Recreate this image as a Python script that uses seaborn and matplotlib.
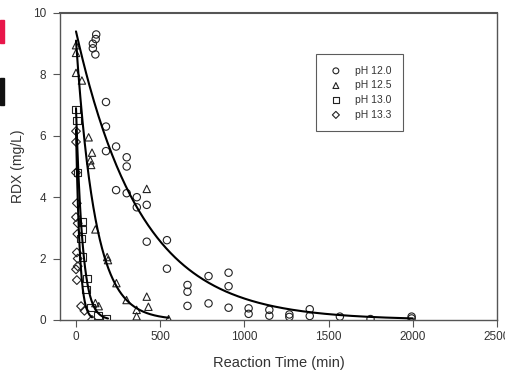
import numpy as np
import pandas as pd
import matplotlib
matplotlib.use("Agg")
import matplotlib.pyplot as plt
import seaborn as sns
from matplotlib.patches import Rectangle

# ---- data ----
ph120_t = [120, 117, 100, 100, 115, 178, 178, 178, 238, 301, 301, 238, 301, 361, 361,
           420, 420, 540, 540, 662, 662, 662, 787, 787, 906, 906, 906, 1025, 1025,
           1148, 1148, 1267, 1267, 1388, 1388, 1567, 1749, 1993, 1993]
ph120_c = [9.3, 9.15, 9.0, 8.85, 8.65, 7.1, 6.3, 5.5, 5.65, 5.3, 5.0, 4.23, 4.13, 4.0, 3.67,
           3.75, 2.55, 2.6, 1.67, 1.14, 0.92, 0.46, 1.43, 0.54, 1.54, 1.1, 0.4, 0.38, 0.2,
           0.33, 0.14, 0.18, 0.1, 0.35, 0.13, 0.11, 0.03, 0.11, 0.05]

ph125_t = [0, 0, 0, 35, 75, 95, 85, 90, 115, 185, 190, 240, 300, 360, 360, 420, 420, 430,
           550, 115, 135]
ph125_c = [8.95, 8.7, 8.05, 7.8, 5.95, 5.45, 5.2, 5.05, 2.95, 2.05, 1.95, 1.2, 0.65, 0.33,
           0.12, 4.27, 0.76, 0.43, 0.03, 0.55, 0.45]

ph130_t = [0, 5, 10, 40, 35, 30, 40, 65, 60, 90, 130, 180]
ph130_c = [6.85, 6.5, 4.8, 3.2, 2.95, 2.65, 2.05, 1.35, 1.0, 0.4, 0.15, 0.03]

ph133_t = [0, 0, 0, 5, 0, 10, 8, 5, 10, 0, 5, 10, 30, 50, 95]
ph133_c = [6.15, 5.8, 4.8, 3.8, 3.35, 3.15, 2.8, 2.2, 2.0, 1.65, 1.3, 1.75, 0.45, 0.3, 0.0]

labels = ["pH 12.0", "pH 12.5", "pH 13.0", "pH 13.3"]
# first-order fit parameters (C0, k, end time)
fit_c0 = [9.4, 9.1, 6.9, 6.2]
fit_k = [0.0026, 0.0088, 0.026, 0.045]
fit_end = [2000, 550, 190, 95]

x_ticks = [0, 500, 1000, 1500, 2000, 2500]
y_ticks = [0, 2, 4, 6, 8, 10]

# ---- plotting ----
sns.set_style("white")
plt.rcParams["font.family"] = ["Liberation Sans", "DejaVu Sans"]
txt = "#333333"

fig = plt.figure(figsize=(5.06, 3.71), dpi=100)
ax = fig.add_axes([0.1186, 0.1375, 0.8636, 0.8275])

series = [(ph120_t, ph120_c, "o"), (ph125_t, ph125_c, "^"),
          (ph130_t, ph130_c, "s"), (ph133_t, ph133_c, "D")]

for (t, c, m), lab in zip(series, labels):
    df = pd.DataFrame({"t": t, "c": c})
    sns.scatterplot(data=df, x="t", y="c", marker=m, s=28 if m != "D" else 20,
                    facecolor="none", edgecolor="#222222", linewidth=0.8,
                    ax=ax, label=lab, zorder=3)

for c0, k, tend in zip(fit_c0, fit_k, fit_end):
    tt = np.linspace(0, tend, 300)
    fit_df = pd.DataFrame({"t": tt, "c": c0 * np.exp(-k * tt)})
    sns.lineplot(data=fit_df, x="t", y="c", color="black", linewidth=1.5,
                 ax=ax, zorder=4)

ax.set_xlim(-95, 2500)
ax.set_ylim(0, 10)
ax.set_xticks(x_ticks)
ax.set_yticks(y_ticks)
ax.tick_params(axis="both", direction="out", length=5, width=0.8, color="#555555",
               labelsize=8.5, labelcolor=txt, bottom=True, left=True)
ax.tick_params(axis="x", pad=3)
ax.tick_params(axis="y", pad=5)
for side in ["left", "bottom", "right", "top"]:
    ax.spines[side].set_color("#555555")
    ax.spines[side].set_linewidth(1.0)
ax.spines["top"].set_linewidth(1.5)
ax.set_xlabel("Reaction Time (min)", fontsize=10.5, labelpad=9, color=txt)
ax.set_ylabel("RDX (mg/L)", fontsize=10, labelpad=6, color=txt)

leg = ax.legend(loc="upper left", bbox_to_anchor=(0.586, 0.866), fontsize=7.5,
                frameon=True, fancybox=False, edgecolor="#333333",
                handletextpad=1.0, labelspacing=0.45, borderpad=1.1,
                borderaxespad=0, handlelength=1.6, markerscale=0.8)
leg.get_frame().set_linewidth(0.8)
for t in leg.get_texts():
    t.set_color(txt)

# slide artefacts at the left edge
fig.patches.append(Rectangle((0, (371 - 43) / 371), 4 / 506, 23 / 371,
                             transform=fig.transFigure, color="#e8164a"))
fig.patches.append(Rectangle((0, (371 - 105) / 371), 4 / 506, 27 / 371,
                             transform=fig.transFigure, color="#111111"))

fig.savefig("out.png", dpi=100)
